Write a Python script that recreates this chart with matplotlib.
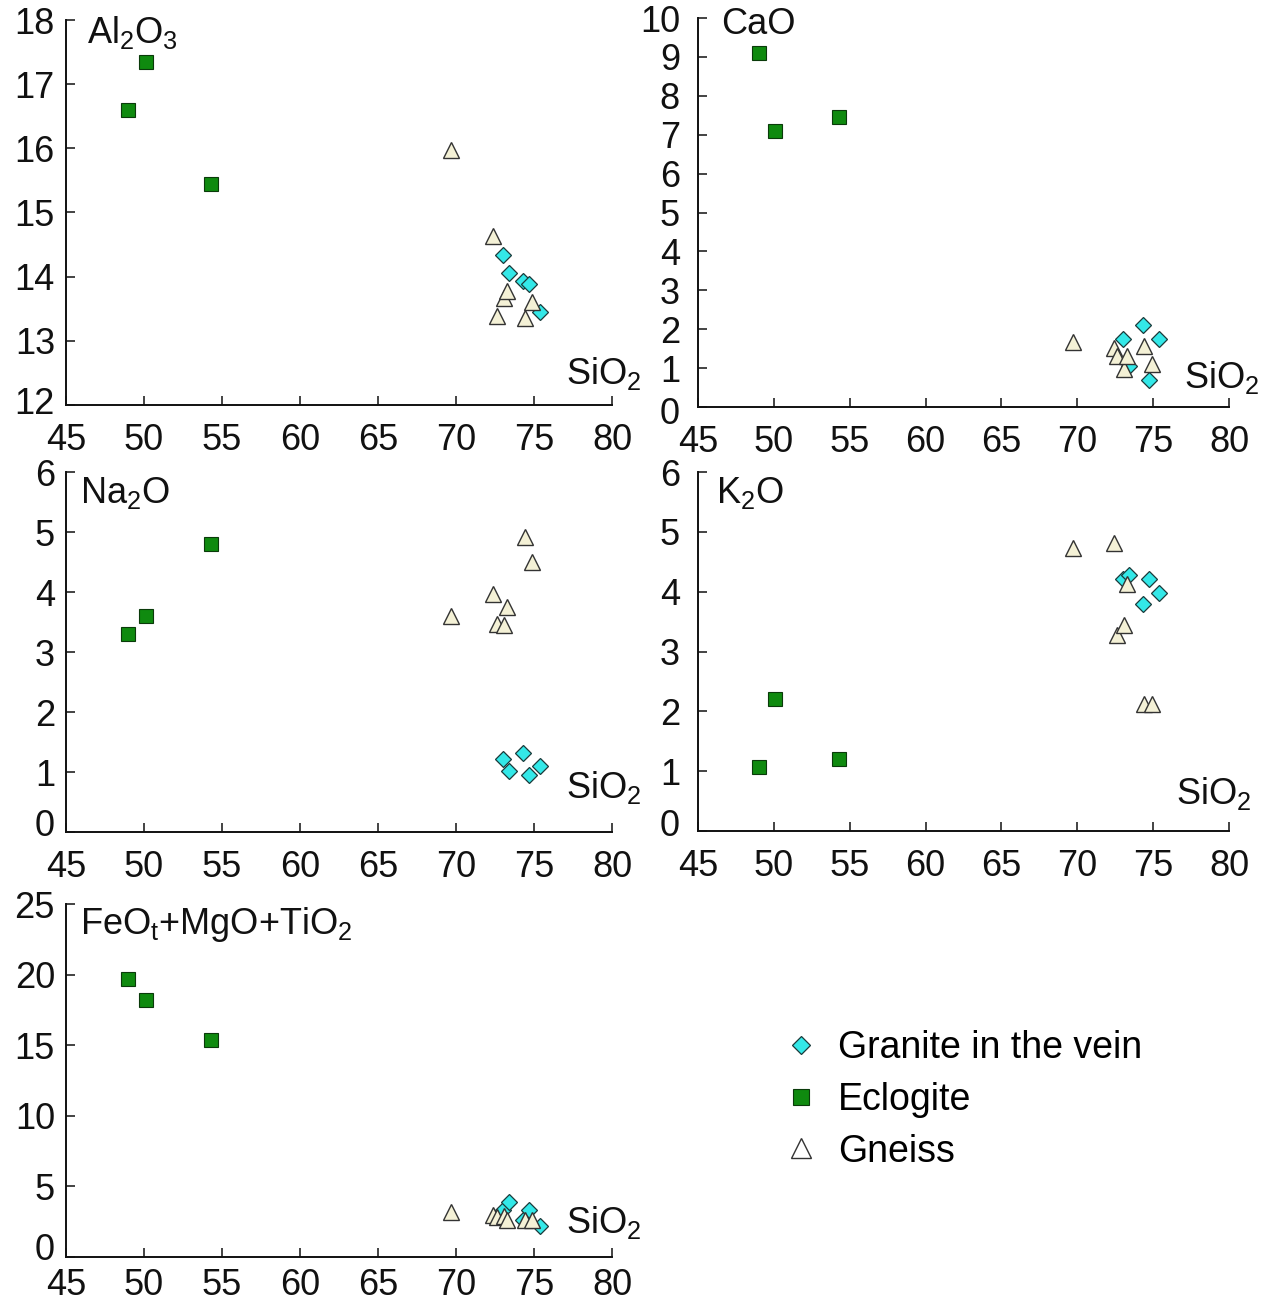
import matplotlib
matplotlib.use("Agg")
import matplotlib.pyplot as plt
from matplotlib.lines import Line2D
from matplotlib.transforms import offset_copy

plt.rcParams["font.family"] = ["Liberation Sans", "DejaVu Sans"]
plt.rcParams["mathtext.fontset"] = "custom"
plt.rcParams["mathtext.rm"] = "Liberation Sans"
plt.rcParams["mathtext.it"] = "Liberation Sans"

# ---- whole-rock major elements (wt.%) ----
granite_sio2 = [73.0, 73.4, 74.3, 74.7, 75.4]
granite_al2o3 = [14.33, 14.06, 13.94, 13.89, 13.45]
granite_cao = [1.75, 1.05, 2.10, 0.70, 1.75]
granite_na2o = [1.22, 1.02, 1.32, 0.95, 1.10]
granite_k2o = [4.22, 4.28, 3.80, 4.22, 3.97]
granite_fmt = [3.3, 3.9, 2.6, 3.3, 2.2]

eclogite_sio2 = [49.0, 50.1, 54.3]
eclogite_al2o3 = [16.60, 17.35, 15.45]
eclogite_cao = [9.10, 7.10, 7.45]
eclogite_na2o = [3.30, 3.60, 4.80]
eclogite_k2o = [1.07, 2.20, 1.20]
eclogite_fmt = [19.7, 18.2, 15.4]

gneiss_sio2 = [69.7, 72.4, 72.6, 73.1, 73.3, 74.4, 74.9]
gneiss_al2o3 = [15.97, 14.63, 13.38, 13.66, 13.77, 13.36, 13.61]
gneiss_cao = [1.68, 1.52, 1.31, 0.98, 1.31, 1.57, 1.11]
gneiss_na2o = [3.60, 3.97, 3.47, 3.45, 3.75, 4.92, 4.50]
gneiss_k2o = [4.73, 4.82, 3.27, 3.45, 4.12, 2.12, 2.12]
gneiss_fmt = [3.2, 3.0, 2.8, 2.9, 2.6, 2.6, 2.6]

panel_titles = [r"$\mathregular{Al_2O_3}$", "CaO", r"$\mathregular{Na_2O}$",
                r"$\mathregular{K_2O}$", r"$\mathregular{FeO_t{+}MgO{+}TiO_2}$"]
x_ticks = [45, 50, 55, 60, 65, 70, 75, 80]
legend_labels = ["Granite in the vein", "Eclogite", "Gneiss"]

W, H = 1268, 1306
FS = 26
fig = plt.figure(figsize=(W / 100, H / 100), dpi=100)


def add_ax(x0, x1, ytop, ybot):
    return fig.add_axes([x0 / W, 1 - ybot / H, (x1 - x0) / W, (ybot - ytop) / H])


# axes box (px), ylim, y ticks, granite / eclogite / gneiss y-data,
# title offset, y-label pad, x-label pad, SiO2 label offset,
# vertical nudge (px) of the lowest y tick label
panels = [
    ((66, 612, 20, 405), (12, 18), range(12, 19),
     granite_al2o3, eclogite_al2o3, gneiss_al2o3, (15, -9), 8, 13, (21, 23), 4),
    ((698, 1229, 18, 407), (0, 10), range(0, 11),
     granite_cao, eclogite_cao, gneiss_cao, (17, -5), 13, 13, (22, 21), -3),
    ((66, 612, 472, 832), (0, 6), range(0, 7),
     granite_na2o, eclogite_na2o, gneiss_na2o, (10, -15), 8, 13, (21, 32), 9),
    ((698, 1229, 472, 831), (0, 6), range(0, 7),
     granite_k2o, eclogite_k2o, gneiss_k2o, (13, -15), 13, 13, (16, 27), 8),
    ((66, 612, 904, 1257), (0, 25), range(0, 26, 5),
     granite_fmt, eclogite_fmt, gneiss_fmt, (10, -15), 8, 8, (21, 25), 10),
]

gneiss_style = dict(linestyle="none", marker="^", ms=11, mfc="#f4f1d6",
                    mec="#333333", mew=1.0)
granite_style = dict(linestyle="none", marker="D", ms=8, mfc="#33e8e8",
                     mec="#1a3a3a", mew=0.9)
eclogite_style = dict(linestyle="none", marker="s", ms=10, mfc="#0f8a0f",
                      mec="#0a3a0a", mew=0.8)

for i, (box, ylim, yt, gy, ey, ny, toff, ypad, xpad, soff, dy0) in enumerate(panels):
    ax = add_ax(*box)
    ax.plot(granite_sio2, gy, zorder=3, clip_on=False, **granite_style)
    ax.plot(gneiss_sio2, ny, zorder=4, clip_on=False, **gneiss_style)
    ax.plot(eclogite_sio2, ey, zorder=5, clip_on=False, **eclogite_style)
    ax.set_xlim(45, 80)
    ax.set_ylim(*ylim)
    ax.set_xticks(x_ticks)
    ax.set_yticks(list(yt))
    ax.spines["top"].set_visible(False)
    ax.spines["right"].set_visible(False)
    for s in ("left", "bottom"):
        ax.spines[s].set_linewidth(1.4)
        ax.spines[s].set_color("#111111")
    ax.tick_params(direction="in", length=6.5, width=1.1, color="#111111",
                   labelsize=FS, labelcolor="#111111")
    ax.tick_params(axis="x", pad=xpad)
    ax.tick_params(axis="y", pad=ypad)
    ax.patch.set_alpha(0)
    # lowest y label sits a little off its tick so it clears the x labels
    lab0 = ax.yaxis.get_major_ticks()[0].label1
    lab0.set_transform(offset_copy(lab0.get_transform(), fig=fig,
                                   x=0, y=dy0, units="dots"))
    ax.annotate(panel_titles[i], xy=(0, 1), xycoords="axes fraction",
                xytext=toff, textcoords="offset points",
                ha="left", va="center", fontsize=FS, color="#111111")
    ax.annotate(r"$\mathregular{SiO_2}$", xy=(1, 0), xycoords="axes fraction",
                xytext=soff, textcoords="offset points",
                ha="right", va="center", fontsize=FS, color="#111111")

handles = [
    Line2D([], [], **dict(granite_style, ms=9.5)),
    Line2D([], [], **dict(eclogite_style, ms=12)),
    Line2D([], [], **dict(gneiss_style, mfc="white", ms=14)),
]
fig.legend(handles, legend_labels, loc="upper left",
           bbox_to_anchor=(782 / W, 1 - 1030 / H), frameon=False,
           fontsize=27, handlelength=1.0, handletextpad=0.5,
           labelspacing=0.42, borderpad=0, borderaxespad=0)

fig.savefig("out.png", dpi=100)
